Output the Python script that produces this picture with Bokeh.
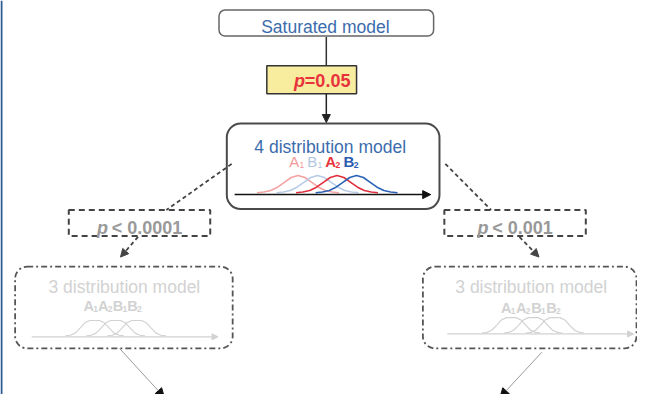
from bokeh.plotting import figure
from bokeh.models import Range1d, Arrow, NormalHead, Span
from bokeh.core.properties import value
from bokeh.embed import file_html
from bokeh.resources import INLINE

# ---------------- data ----------------
model_names = ["Saturated model", "4 distribution model", "3 distribution model", "3 distribution model"]
p_symbol = "p"
p_rest = ["=0.05", "< 0.0001", "< 0.001"]
four_letters = ["A", "B", "A", "B"]
four_subs = ["1", "1", "2", "2"]
three_letters = ["A", "A", "B", "B"]
three_subs = ["1", "2", "1", "2"]
four_means = [-1.5, -0.5, 0.5, 1.5]      # relative component locations (4 distribution model)
three_means = [-1.0, 0.0, 1.0]           # relative component locations (3 distribution model)
bell_steps = [-6, -5, -4, -3, -2, -1, 0, 1, 2, 3, 4, 5, 6]
bell_shape = [0.0, 0.04, 0.13, 0.32, 0.6, 0.88, 1.0, 0.88, 0.6, 0.32, 0.13, 0.04, 0.0]
flat_shape = [0.0, 0.04, 0.18, 0.5, 0.85, 1.0, 1.0, 1.0, 0.85, 0.5, 0.18, 0.04, 0.0]

FONT = value("Liberation Sans")
TY = -5  # text baseline correction

p = figure(width=637, height=394, output_backend="svg", toolbar_location=None,
           x_range=Range1d(0, 653), y_range=Range1d(410, 0), min_border=0)
p.axis.visible = False
p.grid.visible = False
p.outline_line_color = None
p.background_fill_color = "white"
p.border_fill_color = "white"

p.add_layout(Span(location=1, dimension="height", line_color="#2b5a94", line_width=2))

def box(l, r, t, b, color, width, radius=0, dash="solid", fill="white"):
    p.quad(left=[l], right=[r], top=[t], bottom=[b], fill_color=fill, line_color=color,
           line_width=width, line_dash=dash, border_radius=radius)

def arrow(x0, y0, x1, y1, color="#222222", width=1.5, dash="solid", head=True, hs=8, hc=None):
    hc = hc or color
    end = NormalHead(size=hs, fill_color=hc, line_color=hc, line_width=1) if head else None
    p.add_layout(Arrow(end=end, x_start=x0, y_start=y0, x_end=x1, y_end=y1,
                       line_color=color, line_width=width, line_dash=dash))

def txt(x, y, s, size, color, style="normal", align="center"):
    p.text(x=[x], y=[y + TY], text=[s], text_font=FONT, text_font_size=size, text_color=color,
           text_font_style=style, text_align=align, text_baseline="alphabetic")

def sub_labels(x0, y, letters, subs, colors, styles, adv, size, soff, ssize):
    x = x0
    for L, s, c, st in zip(letters, subs, colors, styles):
        txt(x, y, L, size, c, st, "left")
        txt(x + soff, y + 3, s, ssize, c, st, "left")
        x += adv

def curves(center, spread, base, height, halfw, shape, means, colors, width):
    for m, c in zip(means, colors):
        xs = [center + m * spread + k * halfw / 6 for k in bell_steps]
        ys = [base - h * height for h in shape]
        p.line(xs, ys, line_color=c, line_width=width)

# ---------------- connectors ----------------
arrow(334, 38, 334, 68, head=False, color="#333333")
arrow(334, 97, 334, 127, color="#222222")
arrow(237, 170, 170, 218, color="#444444", width=1.8, dash="4 3", head=False)
arrow(141, 246, 123, 267, color="#444444", width=1.8, dash="4 3")
arrow(456, 170, 503, 218, color="#444444", width=1.8, dash="4 3", head=False)
arrow(532, 246, 552, 267, color="#444444", width=1.8, dash="4 3")
arrow(122, 362, 168, 413, color="#999999", width=1.0, hs=9, hc="#111111")
arrow(555, 366, 512, 413, color="#999999", width=1.0, hs=9, hc="#111111")

# ---------------- boxes ----------------
box(224, 444, 10, 37, "#666666", 1.5, 6)
box(273, 365, 68, 97, "#333333", 1.5, 0, fill="#f8ec9e")
box(232, 450, 128, 217, "#4a4a4a", 2, 14)
box(70, 215, 218, 245, "#444444", 2, 0, dash="6 4")
box(455, 600, 218, 245, "#444444", 2, 0, dash="6 4")
box(15, 238, 277, 362, "#555555", 1.8, 12, dash="6 3 2 3")
box(433, 652, 277, 362, "#555555", 1.8, 12, dash="6 3 2 3")

# ---------------- texts ----------------
blue = "#3b6cad"
txt(333, 33, model_names[0], "17.5px", blue)
txt(301, 89, p_symbol, "18px", "#e8323c", "bold italic", "left")
txt(312, 89, p_rest[0], "18px", "#e8323c", "bold", "left")
txt(338, 157, model_names[1], "17.5px", blue)
sub_labels(296, 173, four_letters, four_subs,
           ["#f39a9a", "#b2c6e2", "#e8323c", "#2a5bb0"],
           ["normal", "normal", "bold", "bold"], 18.5, "15px", 10.5, "8.5px")
txt(99, 242, p_symbol, "18px", "#999999", "bold italic", "left")
txt(114, 242, p_rest[1], "18px", "#999999", "bold", "left")
txt(489, 242, p_symbol, "18px", "#999999", "bold italic", "left")
txt(504, 242, p_rest[2], "18px", "#999999", "bold", "left")

gray = "#d2d2d2"
txt(127, 303, model_names[2], "17.5px", gray)
txt(544, 303, model_names[3], "17.5px", gray)
sub_labels(85, 323, three_letters, three_subs, [gray] * 4, ["bold"] * 4, 15, "14.5px", 10, "8.5px")
sub_labels(513, 325, three_letters, three_subs, [gray] * 4, ["bold"] * 4, 15.5, "14.5px", 10, "8.5px")

# ---------------- distributions ----------------
curves(335, 20, 200, 18, 42, bell_shape, four_means,
       ["#f4a3a3", "#b7cbe6", "#e0303e", "#2a62b8"], 1.6)
arrow(240, 202, 441, 202, color="#111111", width=1.5, hs=8)

curves(118, 21.5, 349, 16, 30, flat_shape, three_means, [gray] * 3, 1.2)
arrow(32, 350, 223, 350, color=gray, width=1.2, hs=6)
curves(546, 22.5, 346, 16, 30, flat_shape, three_means, [gray] * 3, 1.2)
arrow(458, 347, 649, 347, color=gray, width=1.2, hs=6)

open("out.html", "w").write(file_html(p, INLINE))
